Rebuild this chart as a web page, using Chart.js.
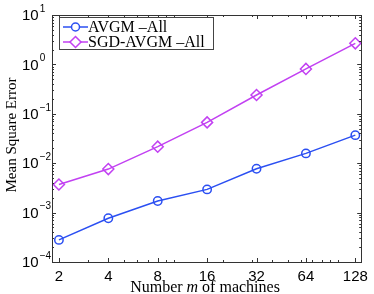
<!DOCTYPE html>
<html>
<head>
<meta charset="utf-8">
<script src="https://cdn.jsdelivr.net/npm/chart.js@4/dist/chart.umd.min.js"></script>
<style>
html,body{margin:0;padding:0;background:#fff;}
#wrap{width:374px;height:294px;}
</style>
</head>
<body>
<div id="wrap"><canvas id="c" width="374" height="294"></canvas></div>
<script>
const machines = [2, 4, 8, 16, 32, 64, 128];
const avgmAll = [2.8e-4, 7.7e-4, 1.72e-3, 2.95e-3, 7.7e-3, 1.58e-2, 3.7e-2];
const sgdAvgmAll = [3.7e-3, 7.6e-3, 2.16e-2, 6.7e-2, 0.24, 0.81, 2.67];
const seriesNames = ['AVGM \u2013All', 'SGD-AVGM \u2013All'];
const xTicks = [2, 4, 8, 16, 32, 64, 128];
const xMinorTicks = [3, 5, 6, 7, 9, 10, 20, 30, 40, 50, 60, 70, 80, 90, 100];
const yExponents = [-4, -3, -2, -1, 0, 1];

const BLUE = '#2b4ff2';
const MAG = '#c241f2';
const SERIF = '"Liberation Serif", "Times New Roman", serif';
const SANS = '"Liberation Sans", Arial, sans-serif';

const frame = {
  id: 'frame',
  afterDraw(chart) {
    const ctx = chart.ctx;
    const a = chart.chartArea;
    const xs = chart.scales.x, ys = chart.scales.y;
    ctx.save();
    ctx.strokeStyle = '#333';
    ctx.lineWidth = 1;
    ctx.strokeRect(Math.round(a.left) + 0.5, Math.round(a.top) + 0.5,
                   Math.round(a.right - a.left), Math.round(a.bottom - a.top));
    ctx.beginPath();
    xTicks.forEach(v => {
      const p = Math.round(xs.getPixelForValue(v)) + 0.5;
      ctx.moveTo(p, a.bottom); ctx.lineTo(p, a.bottom - 4);
      ctx.moveTo(p, a.top); ctx.lineTo(p, a.top + 4);
    });
    xMinorTicks.forEach(v => {
      const p = Math.round(xs.getPixelForValue(v)) + 0.5;
      ctx.moveTo(p, a.bottom); ctx.lineTo(p, a.bottom - 2);
      ctx.moveTo(p, a.top); ctx.lineTo(p, a.top + 2);
    });
    yExponents.forEach(e => {
      const p = Math.round(ys.getPixelForValue(Math.pow(10, e))) + 0.5;
      ctx.moveTo(a.left, p); ctx.lineTo(a.left + 4, p);
      ctx.moveTo(a.right, p); ctx.lineTo(a.right - 4, p);
      if (e < 1) {
        for (let k = 2; k <= 9; k++) {
          const q = Math.round(ys.getPixelForValue(k * Math.pow(10, e))) + 0.5;
          ctx.moveTo(a.left, q); ctx.lineTo(a.left + 2, q);
          ctx.moveTo(a.right, q); ctx.lineTo(a.right - 2, q);
        }
      }
    });
    ctx.stroke();

    ctx.fillStyle = '#000';
    ctx.textBaseline = 'middle';
    yExponents.forEach(e => {
      const p = ys.getPixelForValue(Math.pow(10, e));
      ctx.font = '15px ' + SANS;
      ctx.textAlign = 'left';
      const base = '10';
      ctx.fillText(base, 22, p + 1);
      const w = ctx.measureText(base).width;
      ctx.font = '10px ' + SANS;
      const ex = e < 0 ? '\u2212' + (-e) : String(e);
      ctx.fillText(ex, 22 + w + 1, p - 6);
    });

    ctx.font = '15px ' + SERIF;
    ctx.textAlign = 'center';
    ctx.textBaseline = 'middle';
    ctx.save();
    ctx.translate(12, 135);
    ctx.rotate(-Math.PI / 2);
    ctx.fillText('Mean Square Error', 0, 0);
    ctx.restore();

    const parts = [
      {t: 'Number ', f: '16px ' + SERIF},
      {t: 'm', f: 'italic 16px ' + SERIF},
      {t: ' of machines', f: '16px ' + SERIF}
    ];
    let total = 0;
    parts.forEach(pt => { ctx.font = pt.f; pt.w = ctx.measureText(pt.t).width; total += pt.w; });
    let x0 = 205 - total / 2;
    ctx.textAlign = 'left';
    ctx.textBaseline = 'alphabetic';
    parts.forEach(pt => { ctx.font = pt.f; ctx.fillText(pt.t, x0, 292); x0 += pt.w; });

    const lx = 59, ly = 17, lw = 154, lh = 32;
    ctx.fillStyle = '#fff';
    ctx.fillRect(lx, ly, lw, lh);
    ctx.strokeStyle = '#444';
    ctx.lineWidth = 1;
    ctx.strokeRect(lx + 0.5, ly + 0.5, lw, lh);
    chart.data.datasets.forEach((ds, i) => {
      const yy = ly + 10 + i * 15;
      ctx.strokeStyle = ds.borderColor;
      ctx.lineWidth = 1.5;
      ctx.beginPath();
      ctx.moveTo(lx + 4, yy); ctx.lineTo(lx + 29, yy);
      ctx.stroke();
      ctx.beginPath();
      if (ds.pointStyle === 'circle') {
        ctx.arc(lx + 16.5, yy, 4, 0, Math.PI * 2);
      } else {
        ctx.moveTo(lx + 16.5, yy - 5.5); ctx.lineTo(lx + 22, yy);
        ctx.lineTo(lx + 16.5, yy + 5.5); ctx.lineTo(lx + 11, yy); ctx.closePath();
      }
      ctx.fillStyle = '#fff';
      ctx.fill();
      ctx.stroke();
      ctx.fillStyle = '#000';
      ctx.font = '16px ' + SERIF;
      ctx.textAlign = 'left';
      ctx.textBaseline = 'middle';
      ctx.fillText(ds.label, lx + 29, yy + 1);
    });
    ctx.restore();
  }
};

new Chart(document.getElementById('c'), {
  type: 'line',
  data: {
    datasets: [
      {
        label: seriesNames[0],
        data: machines.map((m, i) => ({x: m, y: avgmAll[i]})),
        borderColor: BLUE, backgroundColor: 'rgba(0,0,0,0)',
        borderWidth: 1.5, pointStyle: 'circle', pointRadius: 4.2,
        pointBorderWidth: 1.5, pointBorderColor: BLUE, pointBackgroundColor: 'rgba(0,0,0,0)',
        tension: 0
      },
      {
        label: seriesNames[1],
        data: machines.map((m, i) => ({x: m, y: sgdAvgmAll[i]})),
        borderColor: MAG, backgroundColor: 'rgba(0,0,0,0)',
        borderWidth: 1.5, pointStyle: 'rectRot', pointRadius: 5.5,
        pointBorderWidth: 1.5, pointBorderColor: MAG, pointBackgroundColor: 'rgba(0,0,0,0)',
        tension: 0
      }
    ]
  },
  options: {
    responsive: false,
    animation: false,
    devicePixelRatio: 1,
    layout: {padding: {left: 0, right: 9, top: 15, bottom: 0}},
    plugins: {legend: {display: false}, tooltip: {enabled: false}},
    scales: {
      x: {
        type: 'logarithmic',
        min: 1.815, max: 139,
        afterBuildTicks: s => { s.ticks = xTicks.map(v => ({value: v, major: true})); },
        afterFit: s => { s.height = 32; },
        grid: {display: false, drawTicks: false},
        border: {display: false},
        ticks: {
          autoSkip: false, maxRotation: 0, padding: 6, color: '#000',
          font: {family: SANS, size: 15},
          callback: v => String(v)
        }
      },
      y: {
        type: 'logarithmic',
        min: 1e-4, max: 10,
        afterFit: s => { s.width = 52; },
        grid: {display: false, drawTicks: false},
        border: {display: false},
        ticks: {display: false}
      }
    }
  },
  plugins: [frame]
});
</script>
</body>
</html>
